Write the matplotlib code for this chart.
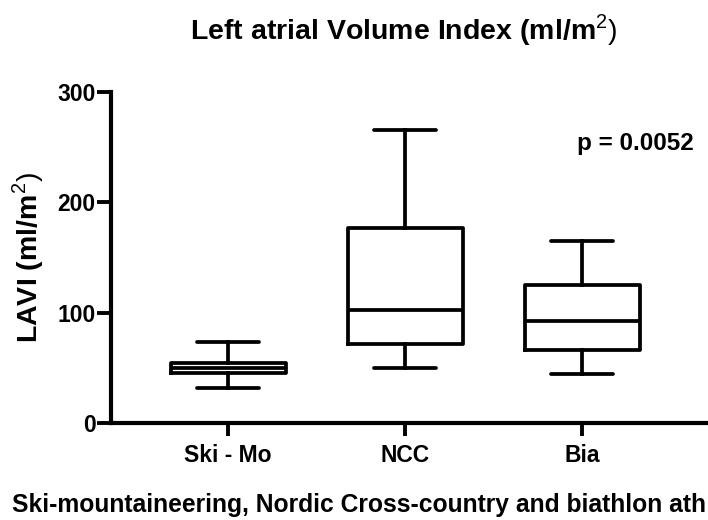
import matplotlib
matplotlib.use('Agg')
import matplotlib.pyplot as plt

plt.rcParams['font.family'] = ['Liberation Sans', 'DejaVu Sans']
plt.rcParams['mathtext.fontset'] = 'custom'
plt.rcParams['mathtext.rm'] = 'Liberation Sans'

# box plot values (LAVI, ml/m2)
groups = ['Ski - Mo', 'NCC', 'Bia']
whisker_low = [31.5, 49.6, 44]
q1 = [45, 71.4, 66]
median = [50, 102.4, 92.5]
q3 = [54, 176.5, 125]
whisker_high = [73.7, 265.6, 165]
y_ticks = [0, 100, 200, 300]

stats = []
for i, name in enumerate(groups):
    stats.append({'label': name, 'whislo': whisker_low[i], 'q1': q1[i],
                  'med': median[i], 'q3': q3[i], 'whishi': whisker_high[i]})

fig = plt.figure(figsize=(7.08, 5.2), dpi=100)
ax = fig.add_axes([0.1564, 0.1865, 0.8436, 0.6365])

lw = 2.7
ax.bxp(stats, positions=[0, 1, 2], widths=0.65, showfliers=False,
       boxprops=dict(color='black', linewidth=lw),
       medianprops=dict(color='black', linewidth=lw),
       whiskerprops=dict(color='black', linewidth=lw),
       capprops=dict(color='black', linewidth=lw, solid_capstyle='round'),
       capwidths=0.35)

ax.set_xlim(-0.663, 2.71)
ax.set_ylim(0, 300)
ax.set_yticks(y_ticks)

for s in ['top', 'right']:
    ax.spines[s].set_visible(False)
for s in ['left', 'bottom']:
    ax.spines[s].set_linewidth(3)

ax.tick_params(axis='y', direction='out', length=10, width=2.8, pad=1,
               labelsize=16.5)
ax.tick_params(axis='x', direction='out', length=9, width=2.8, pad=6,
               labelsize=16.5)
for lab in ax.get_xticklabels() + ax.get_yticklabels():
    lab.set_fontweight('bold')

ax.set_ylabel(r'LAVI (ml/m$^{\mathrm{2}}$$\mathrm{)}$', fontsize=20.5,
              fontweight='bold', labelpad=8)

ax.text(2.63, 253, 'p = 0.0052', fontsize=17.5, fontweight='bold',
        ha='right', va='center')

fig.text(404 / 708, 1 - 30 / 520,
         r'Left atrial Volume Index (ml/m$^{\mathrm{2}}$$\mathrm{)}$',
         fontsize=20.5, fontweight='bold', ha='center', va='center')

# the caption runs off the right edge in the source image
fig.text(12 / 708, 1 - 505 / 520,
         'Ski-mountaineering, Nordic Cross-country and biathlon ath',
         fontsize=17.7, fontweight='bold', ha='left', va='center')

fig.savefig('out.png', dpi=100)
